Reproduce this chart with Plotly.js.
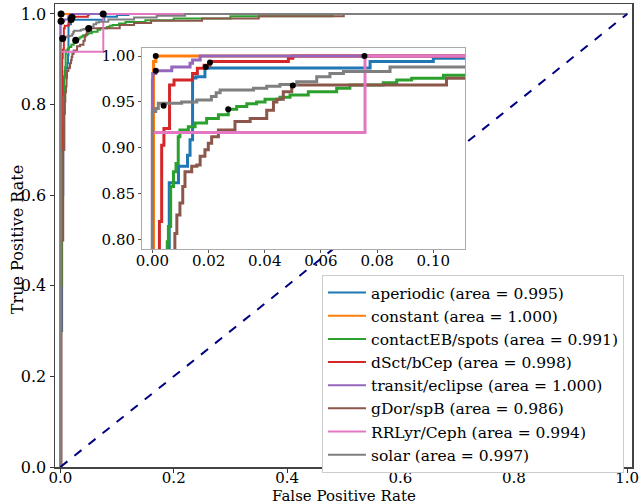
<!DOCTYPE html>
<html>
<head>
<meta charset="utf-8">
<script src="https://cdn.plot.ly/plotly-3.0.1.min.js"></script>
<style>html,body{margin:0;padding:0;background:#fff}#chart{width:644px;height:504px}</style>
</head>
<body>
<div id="chart"></div>
<script>
// Class names and AUC values
const classNames = ["aperiodic","constant","contactEB/spots","dSct/bCep","transit/eclipse","gDor/spB","RRLyr/Ceph","solar"];
const aucValues = [0.995, 1.000, 0.991, 0.998, 1.000, 0.986, 0.994, 0.997];
const colors = ["#1f77b4","#ff7f0e","#2ca02c","#d62728","#9467bd","#8c564b","#e377c2","#7f7f7f"];

// Axis titles
const xTitle = "False Positive Rate";
const yTitle = "True Positive Rate";

// ROC corner points (FPR, TPR) – each point is the top of a vertical rise
const fprAperiodic = [0, 0.001, 0.003, 0.005, 0.006, 0.0077, 0.0093, 0.0125, 0.0134, 0.0143, 0.0155, 0.0187, 0.0200, 0.0775, 0.1000, 0.1200, 1];
const tprAperiodic = [0, 0.30, 0.60, 0.75, 0.862, 0.862, 0.880, 0.892, 0.909, 0.976, 0.9775, 0.9866, 0.987, 0.994, 0.9975, 1.0, 1.0];

const fprConstant = [0, 0.0004, 0.0012, 1];
const tprConstant = [0, 0.994, 1.0, 1.0];

const fprContact = [0, 0.001, 0.003, 0.0045, 0.0053, 0.0057, 0.0065, 0.0075, 0.0084, 0.0092, 0.0098, 0.0128, 0.0152, 0.0193, 0.0235, 0.0270, 0.0300, 0.0336, 0.0371, 0.0401, 0.0454, 0.0490, 0.0555, 0.0656, 0.0703, 0.0822, 0.0870, 0.0923, 0.1036, 0.115, 0.15, 0.20, 0.30, 0.48, 1];
const tprContact = [0, 0.40, 0.65, 0.75, 0.798, 0.8145, 0.858, 0.874, 0.883, 0.912, 0.9196, 0.923, 0.927, 0.932, 0.936, 0.942, 0.945, 0.948, 0.950, 0.953, 0.955, 0.9576, 0.961, 0.965, 0.9685, 0.971, 0.974, 0.9757, 0.979, 0.982, 0.986, 0.990, 0.995, 1.0, 1.0];

const fprDsct = [0, 0.0005, 0.0015, 0.0025, 0.0033, 0.0041, 0.0061, 0.0077, 0.0143, 0.0160, 0.0184, 0.0205, 0.0484, 0.0500, 1];
const tprDsct = [0, 0.50, 0.70, 0.82, 0.903, 0.921, 0.9685, 0.974, 0.981, 0.9866, 0.990, 0.994, 0.9975, 1.0, 1.0];

const fprTransit = [0, 0, 0.0001, 0.0012, 0.0069, 0.0134, 0.0143, 0.0170, 1];
const tprTransit = [0, 0.974, 0.981, 0.984, 0.988, 0.992, 0.9957, 1.0, 1.0];

const fprGdor = [0, 0.002, 0.005, 0.007, 0.0080, 0.0087, 0.0098, 0.0108, 0.0116, 0.0140, 0.0158, 0.0170, 0.0187, 0.0199, 0.0211, 0.0235, 0.0294, 0.0348, 0.0407, 0.0431, 0.0443, 0.0466, 0.0496, 0.1047, 0.130, 0.160, 0.250, 0.350, 0.500, 1];
const tprGdor = [0, 0.50, 0.70, 0.78, 0.807, 0.827, 0.840, 0.858, 0.874, 0.880, 0.8815, 0.891, 0.898, 0.905, 0.912, 0.9196, 0.9286, 0.932, 0.941, 0.950, 0.953, 0.961, 0.9685, 0.9757, 0.980, 0.985, 0.990, 0.995, 1.0, 1.0];

const fprRRLyr = [0, 0, 0.0757, 1];
const tprRRLyr = [0, 0.9167, 1.0, 1.0];

const fprSolar = [0, 0, 0.0012, 0.0021, 0.0104, 0.0158, 0.0210, 0.0227, 0.0241, 0.0360, 0.0407, 0.0454, 0.0514, 0.0585, 0.0632, 0.0680, 0.0846, 0.130, 0.170, 0.220, 1];
const tprSolar = [0, 0.9395, 0.943, 0.9486, 0.950, 0.952, 0.956, 0.960, 0.963, 0.965, 0.967, 0.969, 0.972, 0.9775, 0.981, 0.983, 0.988, 0.992, 0.996, 1.0, 1.0];

const fprLists = [fprAperiodic, fprConstant, fprContact, fprDsct, fprTransit, fprGdor, fprRRLyr, fprSolar];
const tprLists = [tprAperiodic, tprConstant, tprContact, tprDsct, tprTransit, tprGdor, tprRRLyr, tprSolar];

// Threshold markers (black dots)
const dotFpr = [0.019, 0.0012, 0.027, 0.0205, 0.0012, 0.050, 0.0755, 0.004];
const dotTpr = [0.988, 1.000, 0.942, 0.993, 0.984, 0.968, 1.000, 0.946];

// Chance line
const chanceX = [0, 1];
const chanceY = [0, 1];

const FONT = "DejaVu Serif";
const traces = [];
for (let i = 0; i < classNames.length; i++) {
  traces.push({
    x: fprLists[i], y: tprLists[i], type: "scatter", mode: "lines",
    line: {color: colors[i], width: 2, shape: "hv"},
    name: classNames[i] + " (area = " + aucValues[i].toFixed(3) + ")",
    legendgroup: "g" + i, xaxis: "x", yaxis: "y", hoverinfo: "skip"
  });
}
for (let i = 0; i < classNames.length; i++) {
  traces.push({
    x: [dotFpr[i]], y: [dotTpr[i]], type: "scatter", mode: "markers",
    marker: {color: "#000", size: 7}, showlegend: false, xaxis: "x", yaxis: "y", hoverinfo: "skip"
  });
}
traces.push({x: chanceX, y: chanceY, type: "scatter", mode: "lines",
  line: {color: "#000080", width: 2, dash: "dash"}, showlegend: false, xaxis: "x", yaxis: "y", hoverinfo: "skip"});
for (let i = 0; i < classNames.length; i++) {
  traces.push({
    x: fprLists[i], y: tprLists[i], type: "scatter", mode: "lines",
    line: {color: colors[i], width: 3, shape: "hv"},
    showlegend: false, xaxis: "x2", yaxis: "y2", hoverinfo: "skip"
  });
}
for (let i = 0; i < classNames.length; i++) {
  traces.push({
    x: [dotFpr[i]], y: [dotTpr[i]], type: "scatter", mode: "markers",
    marker: {color: "#000", size: 6}, showlegend: false, xaxis: "x2", yaxis: "y2", hoverinfo: "skip"
  });
}

const PLOT_H = 504 - 4 - 37;
const layout = {
  width: 644, height: 504,
  margin: {l: 55, r: 12, t: 4, b: 37},
  paper_bgcolor: "#fff", plot_bgcolor: "#fff",
  font: {family: FONT, size: 16, color: "#000"},
  showlegend: true,
  legend: {
    x: 0.4627, y: 1 - (275 - 4) / PLOT_H, xanchor: "left", yanchor: "top",
    bgcolor: "#fff", bordercolor: "#cccccc", borderwidth: 1,
    font: {family: FONT, size: 15.5, color: "#000"},
    tracegroupgap: 0, itemwidth: 38
  },
  annotations: [
    {text: xTitle, xref: "paper", yref: "paper", x: 0.5, y: (467 - 495.5) / PLOT_H, showarrow: false,
     font: {family: FONT, size: 15}, xanchor: "center", yanchor: "middle", borderpad: 0},
    {text: yTitle, xref: "paper", yref: "paper", x: (17 - 55) / 577, y: 0.49, showarrow: false,
     textangle: -90, font: {family: FONT, size: 16}, xanchor: "center", yanchor: "middle", borderpad: 0}
  ],
  xaxis: {
    domain: [0, 1], range: [-0.0095, 1.0085],
    tickvals: [0, 0.2, 0.4, 0.6, 0.8, 1.0], tickformat: ".1f",
    ticks: "outside", ticklen: 4, tickcolor: "#333", ticklabelstandoff: -8,
    showline: true, linecolor: "#444", linewidth: 1.5, mirror: true,
    showgrid: false, zeroline: false, automargin: false,
    tickfont: {family: FONT, size: 15}
  },
  yaxis: {
    domain: [0, 1], range: [0, 1.022],
    tickvals: [0, 0.2, 0.4, 0.6, 0.8, 1.0], tickformat: ".1f",
    ticks: "outside", ticklen: 4, tickcolor: "#333",
    showline: true, linecolor: "#444", linewidth: 1.5, mirror: true,
    showgrid: false, zeroline: false, automargin: false,
    tickfont: {family: FONT, size: 16}
  },
  xaxis2: {
    domain: [0.1508, 0.7106], range: [-0.0037, 0.1113], anchor: "y2",
    tickvals: [0, 0.02, 0.04, 0.06, 0.08, 0.10], tickformat: ".2f",
    ticks: "outside", ticklen: 3, tickcolor: "#555", ticklabelstandoff: -5,
    showline: true, linecolor: "#aaa", linewidth: 1, mirror: true,
    showgrid: false, zeroline: false,
    tickfont: {family: FONT, size: 15}
  },
  yaxis2: {
    domain: [1 - (249 - 4) / PLOT_H, 1 - (48 - 4) / PLOT_H], range: [0.790, 1.0087], anchor: "x2",
    tickvals: [0.80, 0.85, 0.90, 0.95, 1.00], tickformat: ".2f",
    ticks: "outside", ticklen: 3, tickcolor: "#555",
    showline: true, linecolor: "#aaa", linewidth: 1, mirror: true,
    showgrid: false, zeroline: false,
    tickfont: {family: FONT, size: 15}
  }
};

Plotly.newPlot("chart", traces, layout, {staticPlot: true, displayModeBar: false});
</script>
</body>
</html>
